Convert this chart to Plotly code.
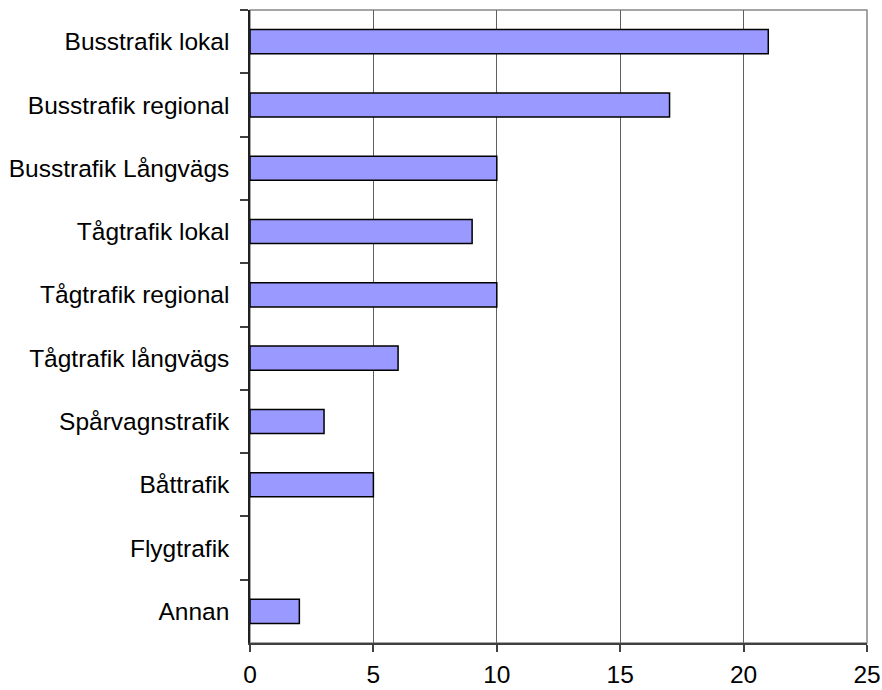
import plotly.graph_objects as go

# Antal per trafikslag
categories = [
    "Busstrafik lokal",
    "Busstrafik regional",
    "Busstrafik Långvägs",
    "Tågtrafik lokal",
    "Tågtrafik regional",
    "Tågtrafik långvägs",
    "Spårvagnstrafik",
    "Båttrafik",
    "Flygtrafik",
    "Annan",
]
values = [21, 17, 10, 9, 10, 6, 3, 5, 0, 2]
x_ticks = [0, 5, 10, 15, 20, 25]

FONT = "Liberation Sans, Arial, sans-serif"
FONT_SIZE = 24.5

# zero-length bars get no outline
outline_widths = [0 if v == 0 else 1.5 for v in values]

fig = go.Figure(
    go.Bar(
        x=values,
        y=categories,
        orientation="h",
        width=0.38,
        marker=dict(color="#9999FF", line=dict(color="#000000", width=outline_widths)),
        hoverinfo="x+y",
    )
)

fig.update_layout(
    width=882,
    height=690,
    margin=dict(l=250, r=15, t=10, b=47, pad=0),
    paper_bgcolor="white",
    plot_bgcolor="white",
    showlegend=False,
    font=dict(family=FONT, size=FONT_SIZE, color="black"),
    shapes=[
        dict(
            type="rect", xref="paper", yref="paper",
            x0=0, x1=1, y0=0, y1=1,
            line=dict(color="#888888", width=1.5),
            layer="below",
        )
    ],
)

fig.update_xaxes(
    range=[0, 25],
    tickvals=x_ticks,
    ticktext=[str(v) for v in x_ticks],
    automargin=False,
    showgrid=True,
    gridcolor="#606060",
    gridwidth=1,
    zeroline=False,
    showline=True,
    linecolor="#404040",
    linewidth=1.5,
    ticks="outside",
    ticklen=7,
    tickcolor="#404040",
    tickwidth=1.5,
    ticklabelstandoff=2,
    tickfont=dict(family=FONT, size=FONT_SIZE, color="black"),
)

fig.update_yaxes(
    type="category",
    categoryorder="array",
    categoryarray=categories,
    autorange="reversed",
    automargin=False,
    showgrid=False,
    zeroline=False,
    showline=True,
    linecolor="#202020",
    linewidth=1.5,
    ticks="outside",
    tickson="boundaries",
    ticklen=8,
    tickcolor="#404040",
    tickwidth=1.5,
    ticklabelstandoff=14,
    tickfont=dict(family=FONT, size=FONT_SIZE, color="black"),
)

fig.write_html("out.html")
